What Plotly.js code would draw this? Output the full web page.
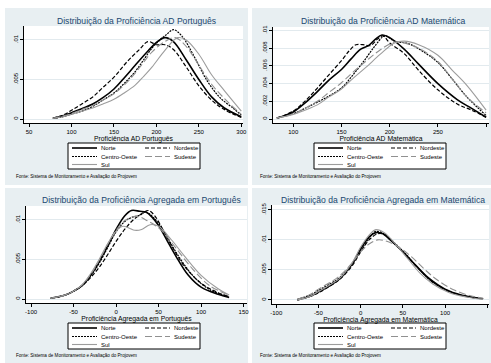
<!DOCTYPE html>
<html><head><meta charset="utf-8">
<script src="https://cdn.plot.ly/plotly-3.0.1.min.js"></script>
<style>html,body{margin:0;padding:0;background:#fff}#chart{width:491px;height:363px}</style>
</head><body><div id="chart"></div>
<script>
const regions = ['Norte','Nordeste','Centro-Oeste','Sudeste','Sul'];

// Panel 1: Proficiência AD Português
const adPortNorteX = [78,90,100,112,125,137,150,162,175,190,200,210,220,235,250,265,280,300];
const adPortNorteY = [.0001,.0004,.0008,.0013,.0019,.0027,.0038,.0052,.0068,.0086,.0097,.0103,.0098,.0075,.0050,.0028,.0014,.0003];
const adPortNordesteX = [78,90,100,112,125,137,150,165,180,190,200,210,220,235,250,265,280,300];
const adPortNordesteY = [.0001,.0005,.0011,.0019,.0028,.0040,.0053,.0072,.0088,.0098,.0094,.0094,.0088,.0066,.0042,.0024,.0012,.0002];
const adPortCOesteX = [78,90,100,112,125,137,150,162,175,185,195,205,212,220,230,245,260,275,290,300];
const adPortCOesteY = [.0001,.0003,.0006,.0010,.0016,.0024,.0033,.0045,.0060,.0075,.0090,.0101,.0107,.0113,.0105,.0078,.0048,.0027,.0014,.0005];
const adPortSudesteX = [78,90,100,112,125,137,150,162,175,185,195,210,222,235,250,265,280,300];
const adPortSudesteY = [.0001,.0004,.0007,.0012,.0017,.0024,.0032,.0043,.0058,.0072,.0085,.0098,.0103,.0092,.0068,.0044,.0026,.0006];
const adPortSulX = [78,90,100,112,125,137,150,162,175,185,195,210,225,235,250,265,280,300];
const adPortSulY = [.0001,.0003,.0006,.0010,.0014,.0019,.0025,.0033,.0043,.0054,.0066,.0087,.0103,.0100,.0082,.0056,.0036,.0010];

// Panel 2: Proficiência AD Matemática
const adMatNorteX = [83,100,112,125,137,150,160,170,178,185,192,200,215,230,250,270,285,300];
const adMatNorteY = [.0001,.0008,.0018,.0031,.0044,.0056,.0068,.0079,.0083,.0090,.0095,.0092,.0079,.0062,.0040,.0022,.0012,.0002];
const adMatNordesteX = [83,100,112,125,137,150,158,165,172,180,187,193,200,215,230,250,270,285,300];
const adMatNordesteY = [.0001,.0009,.0020,.0035,.0050,.0066,.0077,.0084,.0084,.0083,.0090,.0094,.0086,.0074,.0055,.0033,.0017,.0010,.0002];
const adMatCOesteX = [83,100,112,125,137,150,162,175,185,195,205,220,235,250,265,280,300];
const adMatCOesteY = [.0001,.0006,.0012,.0019,.0026,.0035,.0050,.0068,.0083,.0094,.0088,.0085,.0076,.0064,.0045,.0025,.0004];
const adMatSudesteX = [83,100,112,125,137,150,162,175,190,205,215,230,250,265,280,300];
const adMatSudesteY = [.0001,.0006,.0012,.0020,.0030,.0041,.0053,.0065,.0078,.0087,.0086,.0080,.0065,.0045,.0025,.0007];
const adMatSulX = [83,100,112,125,137,150,162,175,190,205,215,230,250,265,280,300];
const adMatSulY = [.0001,.0005,.0010,.0016,.0025,.0034,.0046,.0058,.0073,.0086,.0088,.0084,.0072,.0055,.0038,.0010];

// Panel 3: Proficiência Agregada em Português
const agPortNorteX = [-77,-60,-50,-40,-30,-20,-10,0,10,18,28,35,42,50,60,70,85,100,120,133];
const agPortNorteY = [.0001,.0005,.0010,.0017,.0030,.0047,.0067,.0088,.0105,.0112,.0111,.0110,.0104,.0093,.0074,.0055,.0030,.0015,.0006,.0002];
const agPortNordesteX = [-77,-60,-50,-40,-30,-20,-10,0,10,20,30,38,45,55,65,80,100,120,133];
const agPortNordesteY = [.0001,.0005,.0010,.0017,.0027,.0040,.0056,.0073,.0088,.0100,.0108,.0112,.0106,.0088,.0068,.0042,.0020,.0008,.0003];
const agPortCOesteX = [-77,-60,-50,-40,-30,-20,-10,0,10,20,28,35,45,55,70,90,110,133];
const agPortCOesteY = [.0001,.0005,.0010,.0017,.0029,.0045,.0065,.0085,.0098,.0104,.0106,.0110,.0102,.0088,.0060,.0030,.0012,.0003];
const agPortSudesteX = [-77,-60,-50,-40,-30,-20,-10,0,10,20,28,35,45,55,70,90,110,133];
const agPortSudesteY = [.0001,.0005,.0010,.0018,.0031,.0049,.0069,.0087,.0099,.0104,.0104,.0100,.0094,.0085,.0065,.0038,.0017,.0005];
const agPortSulX = [-77,-60,-50,-40,-30,-20,-10,0,8,15,22,30,40,50,65,80,100,120,133];
const agPortSulY = [.0001,.0005,.0010,.0018,.0032,.0050,.0070,.0086,.0092,.0090,.0087,.0088,.0094,.0092,.0075,.0055,.0030,.0013,.0005];

// Panel 4: Proficiência Agregada em Matemática
const agMatNorteX = [-75,-60,-50,-40,-25,-10,0,10,18,25,35,50,65,80,100,120,145];
const agMatNorteY = [.0000,.0006,.0013,.0021,.0035,.0060,.0085,.0105,.0112,.0111,.0100,.0080,.0058,.0037,.0018,.0008,.0002];
const agMatNordesteX = [-75,-60,-50,-40,-25,-10,0,10,20,28,40,55,70,85,105,125,145];
const agMatNordesteY = [.0000,.0006,.0012,.0020,.0034,.0057,.0080,.0100,.0110,.0109,.0094,.0072,.0050,.0030,.0014,.0006,.0002];
const agMatCOesteX = [-75,-60,-50,-40,-25,-10,0,10,18,28,40,55,70,85,105,125,145];
const agMatCOesteY = [.0001,.0008,.0016,.0024,.0037,.0060,.0082,.0103,.0114,.0110,.0095,.0074,.0050,.0030,.0014,.0006,.0002];
const agMatSudesteX = [-75,-60,-50,-40,-25,-10,0,10,20,30,45,60,75,90,110,130,145];
const agMatSudesteY = [.0001,.0009,.0018,.0026,.0040,.0062,.0080,.0093,.0100,.0098,.0088,.0072,.0052,.0034,.0017,.0007,.0003];
const agMatSulX = [-75,-60,-50,-40,-25,-10,0,10,18,28,40,55,70,85,105,125,145];
const agMatSulY = [.0000,.0006,.0014,.0022,.0036,.0062,.0088,.0108,.0117,.0112,.0095,.0070,.0045,.0027,.0012,.0005,.0001];

const panelTitles = ['Distribuição da Proficiência AD Português','Distribuição da Proficiência AD Matemática',
  'Distribuição da Proficiência Agregada em Português','Distribuição da Proficiência Agregada em Matemática'];
const axisTitles = ['Proficiência AD Português','Proficiência AD Matemática',
  'Proficiência Agregada em Português','Proficiência Agregada em Matemática'];
const footnote = 'Fonte: Sistema de Monitoramento e Avaliação do Projovem';

const xTickVals = [[50,100,150,200,250,300],[100,150,200,250,300],[-100,-50,0,50,100,150],[-100,-50,0,50,100,150]];
const yTickVals = [[0,0.005,0.01],[0,0.002,0.004,0.006,0.008,0.01],[0,0.005,0.01],[0,0.005,0.01,0.015]];
const yTickText = [['0','.005','.01'],['0','.002','.004','.006','.008','.01'],['0','.005','.01'],['0','.005','.01','.015']];

const panelData = [
  [[adPortNorteX,adPortNorteY],[adPortNordesteX,adPortNordesteY],[adPortCOesteX,adPortCOesteY],[adPortSudesteX,adPortSudesteY],[adPortSulX,adPortSulY]],
  [[adMatNorteX,adMatNorteY],[adMatNordesteX,adMatNordesteY],[adMatCOesteX,adMatCOesteY],[adMatSudesteX,adMatSudesteY],[adMatSulX,adMatSulY]],
  [[agPortNorteX,agPortNorteY],[agPortNordesteX,agPortNordesteY],[agPortCOesteX,agPortCOesteY],[agPortSudesteX,agPortSudesteY],[agPortSulX,agPortSulY]],
  [[agMatNorteX,agMatNorteY],[agMatNordesteX,agMatNordesteY],[agMatCOesteX,agMatCOesteY],[agMatSudesteX,agMatSudesteY],[agMatSulX,agMatSulY]]
];

// ---- layout / styling ----
const W = 491, H = 363;
const fx = v => v / W;
const fy = v => 1 - v / H;
const FONT = 'Arial, "Liberation Sans", sans-serif';
const BG = '#E8EFF2';
const GRID = '#E2EAEE';
const TITLE_COLOR = '#1A476F';

const styles = [
  {color:'#000000', width:1.6, dash:'solid'},
  {color:'#000000', width:1.2, dash:'4px,2px'},
  {color:'#000000', width:1.2, dash:'2px,1px'},
  {color:'#909090', width:1.1, dash:'7px,3px'},
  {color:'#9c9c9c', width:1.1, dash:'solid'}
];

// panel geometry in pixels: bg box, plot box, axis ranges, title pos, legend top-left, footnote pos
const panels = [
  {bg:[5,8,248,185],   plot:[24,26,243,123],  xr:[44,302],   yr:[-0.0005,0.01177],  title:[136,21],  leg:[68,143],  foot:[14,177]},
  {bg:[252,8,491,185], plot:[273,27,489,123], xr:[79,303],   yr:[-0.00045,0.0104],  title:[383,21],  leg:[314,143], foot:[258,177]},
  {bg:[5,188,248,363], plot:[26,206,247,303], xr:[-106,154], yr:[-0.0005,0.01177],  title:[141,200], leg:[68,323],  foot:[14,355]},
  {bg:[252,188,491,363],plot:[272,205,489,304],xr:[-105,152], yr:[-0.00067,0.0158], title:[383,200], leg:[314,323], foot:[258,355]}
];

const traces = [];
const layout = {
  width: W, height: H,
  margin: {l:0, r:0, t:0, b:0},
  paper_bgcolor: '#ffffff',
  plot_bgcolor: '#ffffff',
  showlegend: false,
  font: {family: FONT, color: '#000'},
  shapes: [],
  annotations: []
};

panels.forEach((p, i) => {
  const n = i === 0 ? '' : String(i + 1);
  const xa = 'x' + n, ya = 'y' + n;
  panelData[i].forEach((xy, s) => {
    traces.push({
      x: xy[0], y: xy[1], xaxis: xa, yaxis: ya,
      type: 'scatter', mode: 'lines', name: regions[s],
      line: {color: styles[s].color, width: styles[s].width, dash: styles[s].dash, shape: 'spline', smoothing: 1},
      hoverinfo: 'skip'
    });
  });
  layout['xaxis' + n] = {
    domain: [fx(p.plot[0]), fx(p.plot[2])], range: p.xr, anchor: ya,
    tickvals: xTickVals[i], ticktext: xTickVals[i].map(String),
    showline: true, linecolor: '#000', linewidth: 1,
    ticks: 'outside', ticklen: 3, tickwidth: 1, tickcolor: '#000',
    showgrid: false, zeroline: false,
    tickfont: {size: 6, color: '#000', family: FONT},
    title: {text: axisTitles[i], font: {size: 6.8, color: '#000', family: FONT}, standoff: 1},
    fixedrange: true
  };
  layout['yaxis' + n] = {
    domain: [fy(p.plot[3]), fy(p.plot[1])], range: p.yr, anchor: xa,
    tickvals: yTickVals[i], ticktext: yTickText[i], tickangle: -90,
    showline: true, linecolor: '#000', linewidth: 1,
    ticks: 'outside', ticklen: 3, tickwidth: 1, tickcolor: '#000',
    showgrid: true, gridcolor: GRID, gridwidth: 1, zeroline: false,
    tickfont: {size: 6, color: '#000', family: FONT},
    fixedrange: true
  };
  // panel background and white plot region
  layout.shapes.push({type:'rect', layer:'below', xref:'paper', yref:'paper',
    x0: fx(p.bg[0]), x1: fx(p.bg[2]), y0: fy(p.bg[3]), y1: fy(p.bg[1]),
    fillcolor: BG, line: {width: 0}});
  layout.shapes.push({type:'rect', layer:'below', xref: xa + ' domain', yref: ya + ' domain',
    x0: 0, x1: 1, y0: 0, y1: 1, fillcolor: '#ffffff', line: {width: 0}});
  // title
  layout.annotations.push({text: panelTitles[i], xref:'paper', yref:'paper',
    x: fx(p.title[0]), y: fy(p.title[1]), xanchor:'center', yanchor:'middle', showarrow:false,
    font: {size: 8.6, color: TITLE_COLOR, family: FONT}});
  // footnote
  layout.annotations.push({text: footnote, xref:'paper', yref:'paper',
    x: fx(p.foot[0]), y: fy(p.foot[1]), xanchor:'left', yanchor:'middle', showarrow:false,
    font: {size: 4.6, color: '#000', family: FONT}});
  // legend box (drawn from the series names and styles)
  const L = p.leg[0], T = p.leg[1];
  const boxW = 132, boxH = 26;
  layout.shapes.push({type:'rect', layer:'above', xref:'paper', yref:'paper',
    x0: fx(L), x1: fx(L + boxW), y0: fy(T + boxH), y1: fy(T),
    fillcolor: '#ffffff', line: {color:'#000', width: 1}});
  const colX = [4, 77];
  const rowY = [5, 13.5, 21.5];
  regions.forEach((name, s) => {
    const r = Math.floor(s / 2), c = s % 2;
    const x0 = L + colX[c], yy = T + rowY[r];
    layout.shapes.push({type:'line', layer:'above', xref:'paper', yref:'paper',
      x0: fx(x0), x1: fx(x0 + 25), y0: fy(yy), y1: fy(yy),
      line: {color: styles[s].color, width: styles[s].width, dash: styles[s].dash}});
    layout.annotations.push({text: name, xref:'paper', yref:'paper',
      x: fx(x0 + 27), y: fy(yy), xanchor:'left', yanchor:'middle', showarrow:false,
      font: {size: 6, color: '#000', family: FONT}});
  });
});

Plotly.newPlot('chart', traces, layout, {staticPlot: true, displayModeBar: false});
</script></body></html>
